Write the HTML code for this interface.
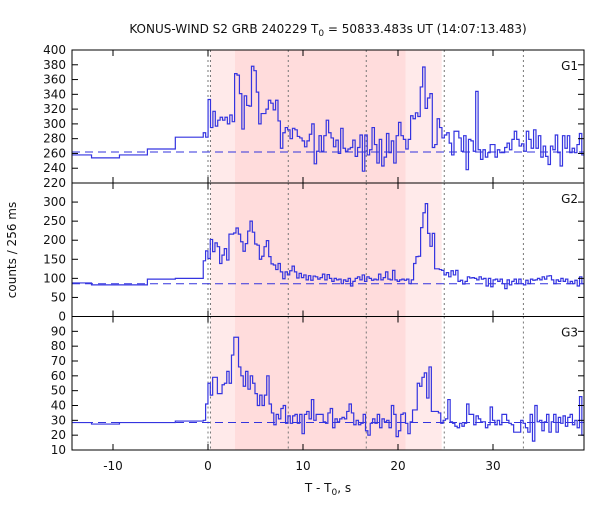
<!DOCTYPE html>
<html><head><meta charset="utf-8"><style>
body{margin:0;background:#fff}
svg text{font-family:"DejaVu Sans","Liberation Sans",sans-serif;font-size:12px;fill:#111}
</style></head><body>
<svg id="chart" width="600" height="500" viewBox="0 0 600 500" xmlns="http://www.w3.org/2000/svg">
<text x="328" y="33" text-anchor="middle">KONUS-WIND S2 GRB 240229 T<tspan font-size="9" dy="3">0</tspan><tspan dy="-3"> = 50833.483s UT (14:07:13.483)</tspan></text>
<text transform="translate(16,250) rotate(-90)" text-anchor="middle">counts / 256 ms</text>
<text x="328" y="492" text-anchor="middle">T - T<tspan font-size="9" dy="3">0</tspan><tspan dy="-3">, s</tspan></text>
<g id="panels"></g>
</svg>
<script>
const xTicks=[-10,0,10,20,30];
const dottedTimes=[0,0.26,8.45,16.66,24.87,33.2];
const lightBands=[[0.26,2.84],[20.8,24.6]];
const darkBands=[[2.84,20.8]];
const preEdges=[-15.2,-12.26,-9.32,-6.38,-3.44,-0.5];
const g1Pre=[258,254,258,266,282];
const g2Pre=[88,83,83,98,100];
const g3Pre=[28.5,27.5,28.5,28.5,29.5];
const g1Vals=[288,282,333,295,317,297,305,309,305,309,300,312,303,368,366,341,293,338,325,324,378,372,343,300,314,314,320,332,328,319,332,304,267,288,295,292,280,294,292,283,281,277,269,277,286,300,246,263,284,263,284,305,288,281,269,278,260,294,267,263,266,268,278,256,
268,285,236,285,258,265,295,272,247,279,243,255,287,261,277,247,284,302,284,279,266,279,311,307,315,310,350,377,321,335,341,268,272,307,295,281,285,288,274,258,290,290,281,263,284,238,279,277,263,344,265,252,265,255,261,272,272,255,265,261,261,268,274,265,279,290,279,270,273,263,290,279,267,292,267,284,255,270,256,245,270,265,285,261,243,284,267,284,261,267,261,272,287,258];
const g2Vals=[146,172,152,202,170,193,183,139,161,178,148,216,216,219,232,216,196,171,191,224,250,221,190,187,150,158,183,199,157,138,135,123,139,117,99,117,109,120,132,117,101,113,102,109,96,107,95,106,104,98,102,111,96,110,100,92,100,96,98,86,96,92,100,80,92,100,104,96,109,92,104,100,95,98,96,111,96,102,117,98,96,121,96,92,96,98,95,98,86,96,139,157,158,233,272,296,218,184,218,125,125,123,121,109,115,104,120,109,121,92,95,85,92,104,101,102,100,96,104,98,100,80,100,78,96,98,92,98,86,73,96,83,92,98,86,98,86,83,95,86,98,95,96,100,96,104,98,106,107,96,86,96,92,100,92,98,86,92,86,95,80,104,86];
const g3Vals=[30,41,55,47,59,59,48,48,54,55,63,55,74,86,86,66,60,53,63,51,60,55,48,40,47,40,47,60,41,35,27,34,31,38,40,28,33,28,33,34,28,34,21,34,36,31,44,30,34,34,34,29,28,35,38,25,31,29,31,32,31,36,41,35,27,30,27,28,34,23,20,28,31,28,34,25,31,29,30,25,40,34,19,23,34,35,28,21,29,37,37,55,53,59,62,45,66,36,36,36,35,28,30,31,44,29,28,26,25,28,26,28,41,34,34,27,33,31,29,29,25,27,39,30,27,30,27,34,34,30,28,27,22,22,22,30,28,25,22,34,16,40,29,30,23,29,34,22,29,34,22,32,28,33,26,32,34,27,30,25,46,20];
const g1Ticks=[220,240,260,280,300,320,340,360,380,400];
const g2Ticks=[0,50,100,150,200,250,300];
const g3Ticks=[10,20,30,40,50,60,70,80,90];
const backgrounds=[262,86,28.5];
const burstStart=-0.5, burstEnd=39.6;

const NS='http://www.w3.org/2000/svg';
const L=72,R=584,T0=208,PX=9.5;
const xs=t=>T0+t*PX;
const panels=[
 {name:'g1',label:'G1',top:50,bot:183,min:220,max:400,pre:g1Pre,vals:g1Vals,ticks:g1Ticks,bg:backgrounds[0]},
 {name:'g2',label:'G2',top:183,bot:316.5,min:0,max:350,pre:g2Pre,vals:g2Vals,ticks:g2Ticks,bg:backgrounds[1]},
 {name:'g3',label:'G3',top:316.5,bot:450,min:10,max:100,pre:g3Pre,vals:g3Vals,ticks:g3Ticks,bg:backgrounds[2]}
];
const root=document.getElementById('panels');
function mk(tag,attrs,parent){const e=document.createElementNS(NS,tag);for(const k in attrs)e.setAttribute(k,attrs[k]);(parent||root).appendChild(e);return e;}
panels.forEach((p,pi)=>{
 const ys=v=>p.bot-(v-p.min)/(p.max-p.min)*(p.bot-p.top);
 const g=mk('g',{});
 
 
 const cp=mk('clipPath',{id:'clip'+pi},g);
 mk('rect',{x:L,y:p.top,width:R-L,height:p.bot-p.top},cp);
 lightBands.forEach(b=>{const r=mk('rect',{x:xs(b[0]),y:p.top,width:xs(b[1])-xs(b[0]),height:p.bot-p.top,fill:'#ffeaea'},g);
  });
 darkBands.forEach(b=>{const r=mk('rect',{x:xs(b[0]),y:p.top,width:xs(b[1])-xs(b[0]),height:p.bot-p.top,fill:'#ffdcdc'},g);
  });
 dottedTimes.forEach(t=>{const l=mk('line',{x1:xs(t),x2:xs(t),y1:p.top,y2:p.bot,stroke:'#777','stroke-dasharray':'2,3','stroke-width':1},g);
  });
 const bgl=mk('line',{x1:L,x2:R,y1:ys(p.bg),y2:ys(p.bg),stroke:'#3333dd','stroke-dasharray':'8,5','stroke-width':1},g);
 
 let d='';
 for(let i=0;i<p.pre.length;i++){const x0=xs(preEdges[i]),x1=xs(preEdges[i+1]),y=ys(p.pre[i]);d+=(i==0?'M'+x0+','+y:'V'+y)+'H'+x1;}
 const w=(burstEnd-burstStart)/p.vals.length;
 p.vals.forEach((v,i)=>{const x1=xs(burstStart+(i+1)*w);d+='V'+ys(v)+'H'+x1;});
 const path=mk('path',{d:d,fill:'none',stroke:'#3434e0','stroke-width':1.2,'clip-path':'url(#clip'+pi+')'},g);
 
 const fr=mk('rect',{x:L,y:p.top,width:R-L,height:p.bot-p.top,fill:'none',stroke:'#000','stroke-width':1},g);
 
 p.ticks.forEach(v=>{const y=ys(v);
  mk('line',{x1:L,x2:L+6,y1:y,y2:y,stroke:'#000'},g);mk('line',{x1:R-6,x2:R,y1:y,y2:y,stroke:'#000'},g);
  if(!(pi>0 && v==p.max)){const tx=mk('text',{x:L-6,y:y+4,'text-anchor':'end'},g);tx.textContent=v;
   }
 });
 xTicks.forEach(t=>{const x=xs(t);mk('line',{x1:x,x2:x,y1:p.bot,y2:p.bot-6,stroke:'#000'},g);mk('line',{x1:x,x2:x,y1:p.top,y2:p.top+6,stroke:'#000'},g);});
 const lb=mk('text',{x:578,y:p.top+20,'text-anchor':'end'},g);lb.textContent=p.label;
 
});
xTicks.forEach(t=>{const tx=mk('text',{x:xs(t),y:470,'text-anchor':'middle'});tx.textContent=t;
 });
</script>
</body></html>
